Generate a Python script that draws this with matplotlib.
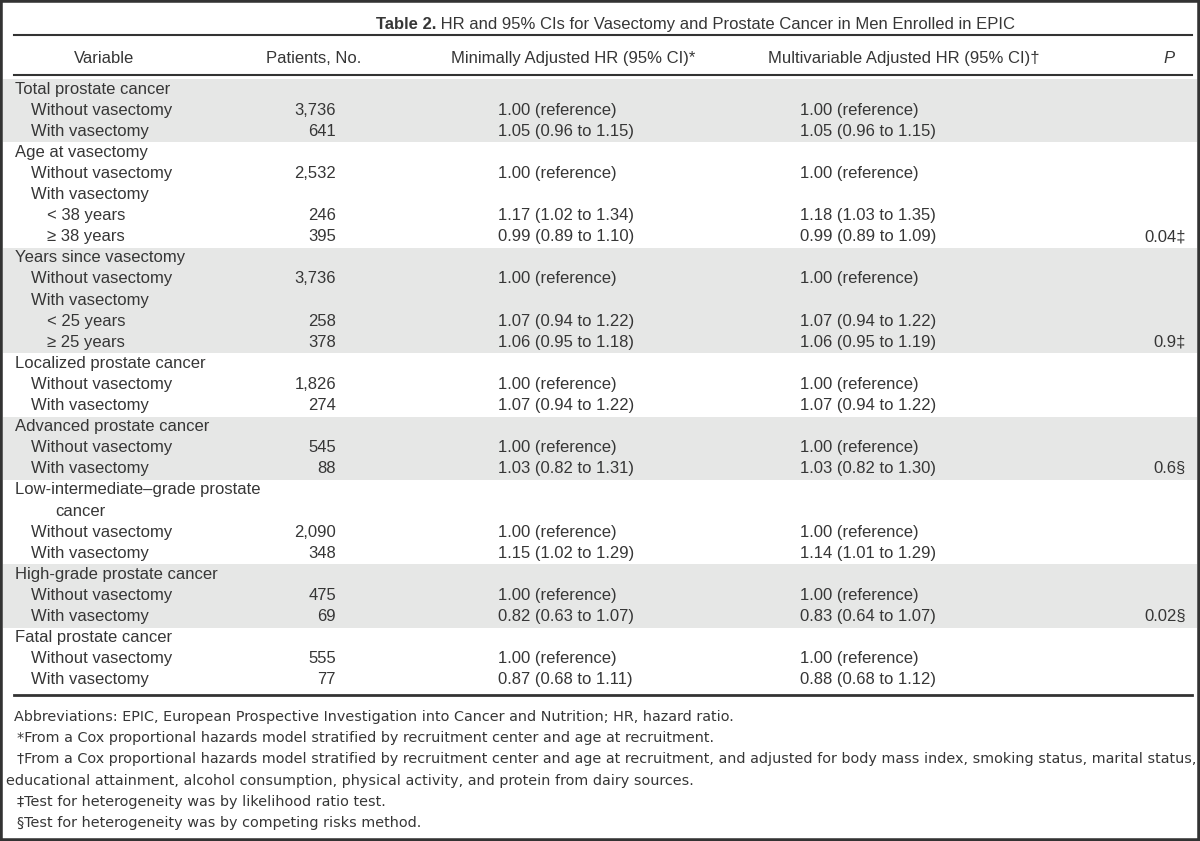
import matplotlib
matplotlib.use('Agg')
import matplotlib.pyplot as plt
from matplotlib.patches import Rectangle

# table content
variables = ['Total prostate cancer', 'Without vasectomy', 'With vasectomy',
             'Age at vasectomy', 'Without vasectomy', 'With vasectomy',
             '< 38 years', '\u2265 38 years',
             'Years since vasectomy', 'Without vasectomy', 'With vasectomy',
             '< 25 years', '\u2265 25 years',
             'Localized prostate cancer', 'Without vasectomy', 'With vasectomy',
             'Advanced prostate cancer', 'Without vasectomy', 'With vasectomy',
             'Low-intermediate\u2013grade prostate', 'cancer',
             'Without vasectomy', 'With vasectomy',
             'High-grade prostate cancer', 'Without vasectomy', 'With vasectomy',
             'Fatal prostate cancer', 'Without vasectomy', 'With vasectomy']
levels = [0, 1, 1, 0, 1, 1, 2, 2, 0, 1, 1, 2, 2, 0, 1, 1, 0, 1, 1, 0, 3, 1, 1,
          0, 1, 1, 0, 1, 1]
patients = ['', '3,736', '641', '', '2,532', '', '246', '395', '', '3,736', '',
            '258', '378', '', '1,826', '274', '', '545', '88', '', '', '2,090',
            '348', '', '475', '69', '', '555', '77']
ref = '1.00 (reference)'
hr_min = ['', ref, '1.05 (0.96 to 1.15)', '', ref, '', '1.17 (1.02 to 1.34)',
          '0.99 (0.89 to 1.10)', '', ref, '', '1.07 (0.94 to 1.22)',
          '1.06 (0.95 to 1.18)', '', ref, '1.07 (0.94 to 1.22)', '', ref,
          '1.03 (0.82 to 1.31)', '', '', ref, '1.15 (1.02 to 1.29)', '', ref,
          '0.82 (0.63 to 1.07)', '', ref, '0.87 (0.68 to 1.11)']
hr_multi = ['', ref, '1.05 (0.96 to 1.15)', '', ref, '', '1.18 (1.03 to 1.35)',
            '0.99 (0.89 to 1.09)', '', ref, '', '1.07 (0.94 to 1.22)',
            '1.06 (0.95 to 1.19)', '', ref, '1.07 (0.94 to 1.22)', '', ref,
            '1.03 (0.82 to 1.30)', '', '', ref, '1.14 (1.01 to 1.29)', '', ref,
            '0.83 (0.64 to 1.07)', '', ref, '0.88 (0.68 to 1.12)']
p_values = ['', '', '', '', '', '', '', '0.04\u2021', '', '', '', '', '0.9\u2021',
            '', '', '', '', '', '0.6\u00a7', '', '', '', '', '', '', '0.02\u00a7',
            '', '', '']
# (first row, last row) of the shaded groups
shaded_groups = [(0, 2), (8, 12), (16, 18), (23, 25)]

headers = ['Variable', 'Patients, No.', 'Minimally Adjusted HR (95% CI)*',
           'Multivariable Adjusted HR (95% CI)\u2020']
footnotes = [
    'Abbreviations: EPIC, European Prospective Investigation into Cancer and Nutrition; HR, hazard ratio.',
    '*From a Cox proportional hazards model stratified by recruitment center and age at recruitment.',
    '\u2020From a Cox proportional hazards model stratified by recruitment center and age at recruitment, and adjusted for body mass index, smoking status, marital status,',
    'educational attainment, alcohol consumption, physical activity, and protein from dairy sources.',
    '\u2021Test for heterogeneity was by likelihood ratio test.',
    '\u00a7Test for heterogeneity was by competing risks method.',
]
foot_x = [14, 17, 17, 6, 17, 17]

FONT = 'Liberation Sans'
TXT = '#363636'
plt.rcParams['font.family'] = [FONT, 'DejaVu Sans']

fig = plt.figure(figsize=(12, 8.41), dpi=100)
ax = fig.add_axes([0, 0, 1, 1])
ax.set_xlim(0, 1200)
ax.set_ylim(841, 0)
ax.axis('off')

y0, dy = 89, 21.1
indent = {0: 15, 1: 31, 2: 47, 3: 55}

# shading
for a, b in shaded_groups:
    top = y0 + a * dy - dy / 2 + 0.5
    ax.add_patch(Rectangle((3, top), 1194, (b - a + 1) * dy, color='#e6e7e6', lw=0, zorder=0))

# title
t1 = ax.text(376, 24, 'Table 2.', fontsize=12, fontweight='bold', color=TXT, va='center')
ax.annotate(' HR and 95% CIs for Vasectomy and Prostate Cancer in Men Enrolled in EPIC',
            xy=(1, 0.5), xycoords=t1, va='center', ha='left', fontsize=12, color=TXT)

# rules
ax.plot([14, 1192], [35, 35], color='#333333', lw=1.5)
ax.plot([14, 1192], [75, 75], color='#333333', lw=1.5)
ax.plot([14, 1192], [695, 695], color='#333333', lw=2)

# header
for x, h in zip([104, 314, 573, 904], headers):
    ax.text(x, 58, h, fontsize=12, color=TXT, ha='center', va='center')
ax.text(1169, 58, 'P', fontsize=12, color=TXT, ha='center', va='center', style='italic')

# body
for i in range(len(variables)):
    y = y0 + i * dy
    ax.text(indent[levels[i]], y, variables[i], fontsize=12, color=TXT, va='center')
    ax.text(336, y, patients[i], fontsize=12, color=TXT, va='center', ha='right')
    ax.text(498, y, hr_min[i], fontsize=12, color=TXT, va='center')
    ax.text(800, y, hr_multi[i], fontsize=12, color=TXT, va='center')
    ax.text(1186, y, p_values[i], fontsize=12, color=TXT, va='center', ha='right')

# footnotes
for k, (x, f) in enumerate(zip(foot_x, footnotes)):
    ax.text(x, 717 + k * 21.2, f, fontsize=10.4, color=TXT, va='center',
            family=['Liberation Sans Narrow', 'DejaVu Sans'])

# outer frame
fig.patches.append(Rectangle((0, 0), 1, 1, transform=fig.transFigure, fill=False,
                             ec='#333333', lw=4))

fig.savefig('out.png', dpi=100)
